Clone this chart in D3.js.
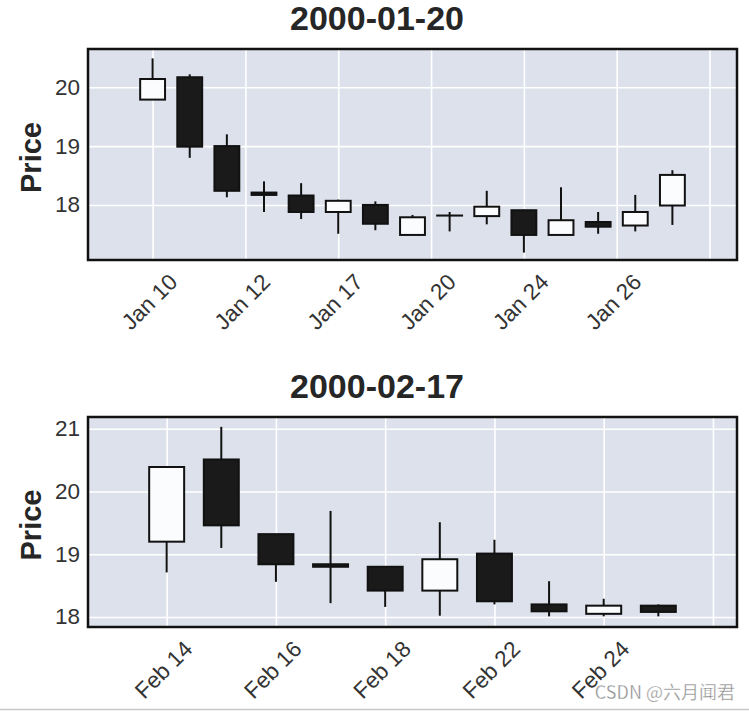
<!DOCTYPE html>
<html>
<head>
<meta charset="utf-8">
<script src="https://cdn.jsdelivr.net/npm/d3@7"></script>
<style>
  html, body { margin: 0; padding: 0; background: #ffffff; }
  svg { display: block; }
</style>
</head>
<body>
<svg id="chart" width="749" height="711"></svg>
<script>
// ---------------- DATA ----------------
// Panel 1 (title 2000-01-20)
const dates1 = ["Jan 10","Jan 11","Jan 12","Jan 13","Jan 14","Jan 17","Jan 18","Jan 19","Jan 20","Jan 21","Jan 24","Jan 25","Jan 26","Jan 27","Jan 28"];
const open1  = [19.79, 20.17, 19.00, 18.21, 18.16, 17.88, 18.00, 17.49, 17.82, 17.81, 17.91, 17.49, 17.71, 17.65, 17.99];
const high1  = [20.49, 20.22, 19.20, 18.40, 18.37, 18.09, 18.06, 17.83, 17.88, 18.24, 17.92, 18.30, 17.88, 18.17, 18.59];
const low1   = [19.79, 18.80, 18.13, 17.88, 17.76, 17.51, 17.57, 17.49, 17.55, 17.67, 17.19, 17.49, 17.51, 17.55, 17.66];
const close1 = [20.14, 18.99, 18.24, 18.17, 17.88, 18.07, 17.68, 17.79, 17.82, 17.97, 17.49, 17.74, 17.63, 17.88, 18.51];
const xTicks1 = [0, 2.5, 5, 7.5, 10, 12.5, 15];
const xTickLabels1 = ["Jan 10", "Jan 12", "Jan 17", "Jan 20", "Jan 24", "Jan 26", ""];
const yTicks1 = [18, 19, 20];
const title1 = "2000-01-20";

// Panel 2 (title 2000-02-17)
const dates2 = ["Feb 14","Feb 15","Feb 16","Feb 17","Feb 18","Feb 21","Feb 22","Feb 23","Feb 24","Feb 25"];
const open2  = [19.20, 20.51, 19.32, 18.84, 18.80, 18.42, 19.01, 18.20, 18.05, 18.18];
const high2  = [20.39, 21.03, 19.32, 19.69, 18.80, 19.51, 19.23, 18.57, 18.29, 18.20];
const low2   = [18.71, 19.10, 18.56, 18.22, 18.16, 18.02, 18.20, 18.01, 18.01, 18.01];
const close2 = [20.39, 19.46, 18.84, 18.80, 18.42, 18.92, 18.25, 18.09, 18.18, 18.08];
const xTicks2 = [0, 2, 4, 6, 8, 10];
const xTickLabels2 = ["Feb 14", "Feb 16", "Feb 18", "Feb 22", "Feb 24", ""];
const yTicks2 = [18, 19, 20, 21];
const title2 = "2000-02-17";

const yLabel = "Price";
const watermark = "CSDN @六月闻君";

// ---------------- DRAW ----------------
const svg = d3.select("#chart");
const FONT = "'Liberation Sans', Arial, sans-serif";
const TICK_FS = 22.5;

function panel(cfg) {
  const { box, xDomain, yDomain, dates, open, high, low, close,
          xTicks, xTickLabels, yTicks, title, bodyFrac, titleY } = cfg;
  const x = d3.scaleLinear().domain(xDomain).range([box.x0, box.x1]);
  const y = d3.scaleLinear().domain(yDomain).range([box.y1, box.y0]);
  const g = svg.append("g");

  const clipId = "clip" + Math.round(box.y0);
  svg.append("clipPath").attr("id", clipId)
    .append("rect").attr("x", box.x0).attr("y", box.y0)
    .attr("width", box.x1 - box.x0).attr("height", box.y1 - box.y0);

  // background
  g.append("rect").attr("x", box.x0).attr("y", box.y0)
    .attr("width", box.x1 - box.x0).attr("height", box.y1 - box.y0)
    .attr("fill", "#dce1ec");

  const inner = g.append("g").attr("clip-path", `url(#${clipId})`);

  // grid via axes
  const gx = inner.append("g").attr("transform", `translate(0,${box.y1})`)
    .call(d3.axisBottom(x).tickValues(xTicks).tickSize(-(box.y1 - box.y0)).tickFormat(""));
  const gy = inner.append("g").attr("transform", `translate(${box.x0},0)`)
    .call(d3.axisLeft(y).tickValues(yTicks).tickSize(-(box.x1 - box.x0)).tickFormat(""));
  [gx, gy].forEach(a => {
    a.select(".domain").remove();
    a.selectAll("line").attr("stroke", "#ffffff").attr("stroke-width", 1.6);
  });

  const idx = d3.range(dates.length);
  const bw = x(bodyFrac) - x(0);

  // wicks
  inner.selectAll("line.wick").data(idx).join("line")
    .attr("class", "wick")
    .attr("x1", i => x(i)).attr("x2", i => x(i))
    .attr("y1", i => y(high[i])).attr("y2", i => y(low[i]))
    .attr("stroke", "#111111").attr("stroke-width", 2);

  // bodies
  inner.selectAll("rect.body").data(idx).join("rect")
    .attr("class", "body")
    .attr("x", i => x(i) - bw / 2)
    .attr("width", bw)
    .attr("y", i => y(Math.max(open[i], close[i])))
    .attr("height", i => Math.max(0.05, Math.abs(y(open[i]) - y(close[i]))))
    .attr("fill", i => close[i] >= open[i] ? "#fbfcfe" : "#1a1a1a")
    .attr("stroke", "#111111").attr("stroke-width", 2);

  // frame
  g.append("rect").attr("x", box.x0).attr("y", box.y0)
    .attr("width", box.x1 - box.x0).attr("height", box.y1 - box.y0)
    .attr("fill", "none").attr("stroke", "#111111").attr("stroke-width", 2.5);

  // y tick labels
  g.selectAll("text.ytl").data(yTicks).join("text")
    .attr("class", "ytl")
    .attr("x", box.x0 - 8).attr("y", d => y(d))
    .attr("text-anchor", "end").attr("dominant-baseline", "central")
    .attr("font-family", FONT).attr("font-size", TICK_FS).attr("fill", "#333333")
    .text(d => d);

  // x tick labels, rotated 45, bbox centred on tick, top aligned
  const labelTop = box.y1 + 9;
  const xl = g.selectAll("text.xtl").data(xTicks.map((t, i) => ({ t, s: xTickLabels[i] })))
    .join("text")
    .attr("class", "xtl")
    .attr("text-anchor", "middle").attr("dominant-baseline", "central")
    .attr("font-family", FONT).attr("font-size", TICK_FS).attr("fill", "#333333")
    .text(d => d.s);
  xl.each(function (d) {
    const L = this.getComputedTextLength();
    const h = TICK_FS * 1.15;
    const bb = (L + h) / Math.SQRT2;
    const cx = x(d.t) - 3, cy = labelTop + bb / 2;
    d3.select(this).attr("transform", `translate(${cx},${cy}) rotate(-45)`);
  });

  // y label
  g.append("text")
    .attr("transform", `translate(41,${(box.y0 + box.y1) / 2 + 3}) rotate(-90)`)
    .attr("text-anchor", "middle")
    .attr("font-family", FONT).attr("font-size", 29).attr("font-weight", "bold")
    .attr("fill", "#262626")
    .text(yLabel);

  // title
  svg.append("text")
    .attr("x", 377).attr("y", titleY)
    .attr("text-anchor", "middle")
    .attr("font-family", FONT).attr("font-size", 34).attr("font-weight", "bold")
    .attr("fill", "#262626")
    .text(title);
}

panel({
  box: { x0: 88, x1: 737, y0: 49, y1: 260 },
  xDomain: [-1.74, 15.74], yDomain: [17.064, 20.65],
  dates: dates1, open: open1, high: high1, low: low1, close: close1,
  xTicks: xTicks1, xTickLabels: xTickLabels1, yTicks: yTicks1,
  title: title1, bodyFrac: 0.67, titleY: 30
});

panel({
  box: { x0: 88, x1: 737, y0: 417, y1: 627 },
  xDomain: [-1.44, 10.44], yDomain: [17.84, 21.187],
  dates: dates2, open: open2, high: high2, low: low2, close: close2,
  xTicks: xTicks2, xTickLabels: xTickLabels2, yTicks: yTicks2,
  title: title2, bodyFrac: 0.64, titleY: 398
});

// watermark
svg.append("text")
  .attr("x", 735).attr("y", 699)
  .attr("text-anchor", "end")
  .attr("font-family", "'Noto Sans CJK SC', 'Noto Sans', sans-serif")
  .attr("font-size", 18).attr("fill", "#8f8f8f")
  .attr("stroke", "#ffffff").attr("stroke-width", 0.3)
  .text(watermark);

// bottom border line of the screenshot
svg.append("line")
  .attr("x1", 0).attr("x2", 749).attr("y1", 709.5).attr("y2", 709.5)
  .attr("stroke", "#c8c8c8").attr("stroke-width", 1.5);
</script>
</body>
</html>
